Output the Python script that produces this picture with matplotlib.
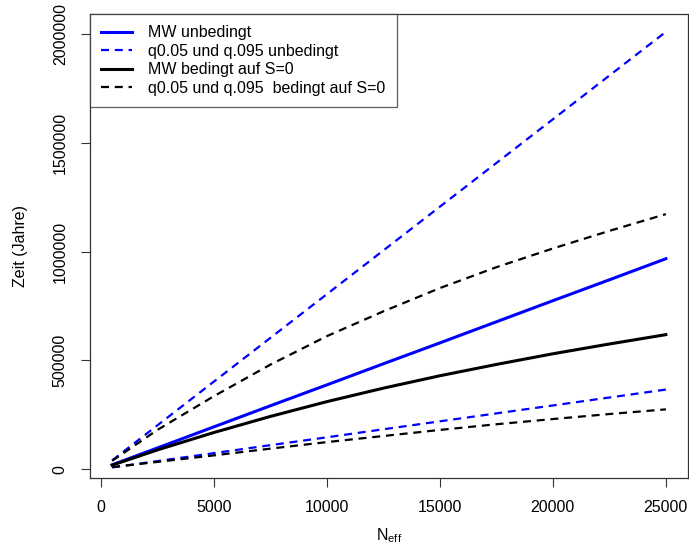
import numpy as np
import matplotlib.pyplot as plt

plt.rcParams['font.family'] = ['Liberation Sans', 'DejaVu Sans']

# effective population size (x) and times in years (y)
n_eff = [500, 2500, 5000, 7500, 10000, 12500, 15000, 17500, 20000, 22500, 25000]

mw_unbed = [19500, 97000, 194000, 291000, 387000, 484000, 580000, 677000, 774000, 870000, 967000]
q05_unbed = [7500, 36700, 73200, 110000, 146000, 183000, 219500, 256000, 292500, 329000, 365500]
q95_unbed = [40000, 201000, 402000, 603000, 804000, 1005000, 1206000, 1407000, 1608000, 1809000, 2010000]

mw_bed = [18000, 88000, 168000, 242000, 310000, 372000, 429000, 481000, 530000, 575000, 618000]
q05_bed = [9000, 33000, 63000, 94000, 124000, 152000, 180000, 206000, 230000, 253000, 274500]
q95_bed = [38000, 180000, 335000, 480000, 611000, 725000, 832000, 928000, 1014000, 1095000, 1172000]

fig = plt.figure(figsize=(6.89, 5.49), dpi=100)
ax = fig.add_axes([90/689, 1 - 478/549, 598/689, 464/549])

dash = (3.6, 2.6)
ax.plot(n_eff, mw_unbed, color='blue', lw=2.2, label='MW unbedingt')
ax.plot(n_eff, q05_unbed, color='blue', lw=1.6, ls=(0, dash), label='q0.05 und q.095 unbedingt')
ax.plot(n_eff, q95_unbed, color='blue', lw=1.6, ls=(0, dash))
ax.plot(n_eff, mw_bed, color='black', lw=2.2, label='MW bedingt auf S=0')
ax.plot(n_eff, q05_bed, color='black', lw=1.6, ls=(0, dash), label='q0.05 und q.095  bedingt auf S=0')
ax.plot(n_eff, q95_bed, color='black', lw=1.6, ls=(0, dash))

ax.margins(x=0.04)
ax.set_ylim(-41000, 2092000)
ax.set_xticks(np.arange(0, 25001, 5000))
ax.set_yticks(np.arange(0, 2000001, 500000))
ax.set_xticklabels([str(v) for v in range(0, 25001, 5000)])
ax.set_yticklabels([str(v) for v in range(0, 2000001, 500000)], rotation=90, va='center')
ax.tick_params(labelsize=11.5, length=6.5, width=0.8, color='#333333', pad=9.5)
for s in ax.spines.values():
    s.set_color('#333333')
    s.set_linewidth(0.9)

ax.set_xlabel(r'N$_{\mathregular{eff}}$', fontsize=11.5, labelpad=8)
ax.set_ylabel('Zeit (Jahre)', fontsize=11.5, labelpad=18)

leg = ax.legend(loc='upper left', fontsize=11.5, frameon=True, fancybox=False,
                borderaxespad=0, handlelength=1.95, handletextpad=1.0,
                labelspacing=0.22, borderpad=0.7)
leg.get_frame().set_edgecolor('#333333')
leg.get_frame().set_linewidth(0.9)

fig.savefig('out.png', dpi=100)
